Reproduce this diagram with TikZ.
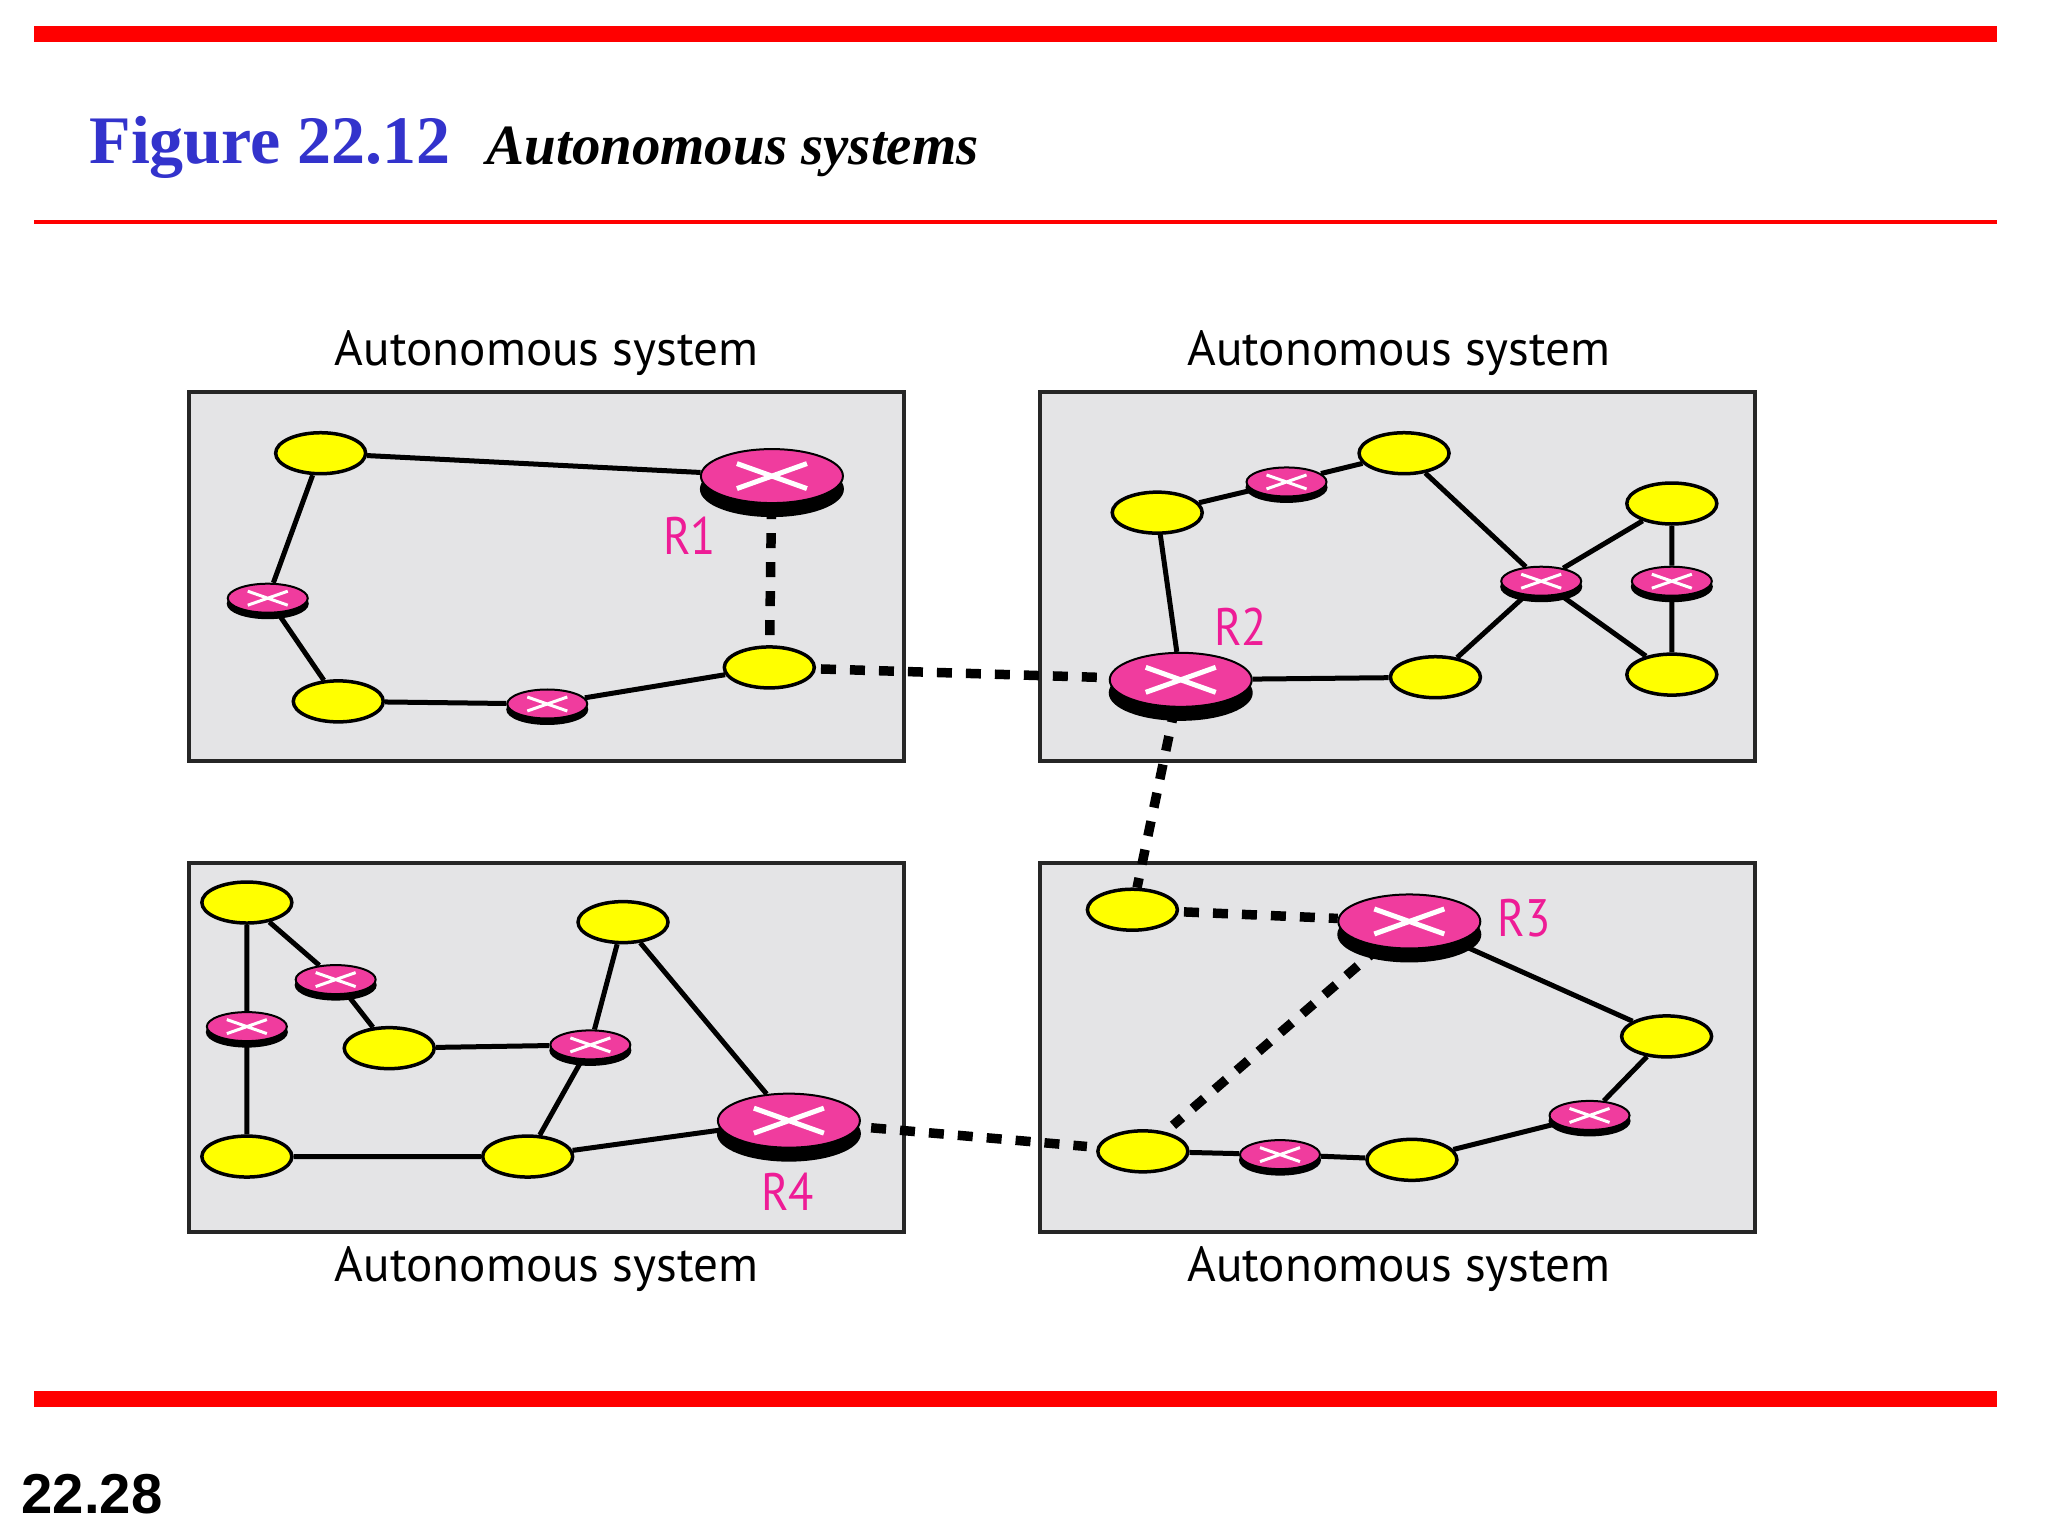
\documentclass[tikz,border=0pt]{standalone}
\usepackage{fontspec}
\setmainfont{Liberation Serif}
\newfontfamily\figsans{PT Sans}
\newfontfamily\labelsans[FakeStretch=0.88]{PT Sans}
\newfontfamily\pagesans{Liberation Sans}
\usetikzlibrary{shapes.geometric}
\pgfdeclarelayer{boxes}
\pgfdeclarelayer{links}
\pgfsetlayers{boxes,links,main}
\definecolor{routerpink}{HTML}{F03C9E}
\definecolor{labelpink}{HTML}{EE1C96}
\definecolor{boxgray}{HTML}{E4E4E6}
\definecolor{titleblue}{HTML}{3333CC}
\definecolor{hostyellow}{HTML}{FFFF00}
\definecolor{barred}{HTML}{FF0000}
\tikzset{
  host/.style={ellipse,draw=black,fill=hostyellow,line width=0.035cm,inner sep=0pt,
    minimum width=0.9cm,minimum height=0.41cm},
  smallbase/.style={ellipse,fill=black,draw=black,line width=0.02cm,inner sep=0pt,
    minimum width=0.8cm,minimum height=0.29cm,yshift=-0.055cm},
  bigbase/.style={ellipse,fill=black,draw=black,line width=0.02cm,inner sep=0pt,
    minimum width=1.42cm,minimum height=0.54cm,yshift=-0.13cm},
  smallrouter/.style={ellipse,fill=routerpink,draw=black,line width=0.02cm,inner sep=0pt,
    minimum width=0.8cm,minimum height=0.29cm,
    path picture={\draw[white,line width=0.03cm]
      ([shift={(-0.2cm,-0.07cm)}]path picture bounding box.center) -- ([shift={(0.2cm,0.07cm)}]path picture bounding box.center)
      ([shift={(-0.2cm,0.07cm)}]path picture bounding box.center) -- ([shift={(0.2cm,-0.07cm)}]path picture bounding box.center);}},
  bigrouter/.style={ellipse,fill=routerpink,draw=black,line width=0.02cm,inner sep=0pt,
    minimum width=1.42cm,minimum height=0.54cm,
    path picture={\draw[white,line width=0.05cm]
      ([shift={(-0.35cm,-0.125cm)}]path picture bounding box.center) -- ([shift={(0.35cm,0.125cm)}]path picture bounding box.center)
      ([shift={(-0.35cm,0.125cm)}]path picture bounding box.center) -- ([shift={(0.35cm,-0.125cm)}]path picture bounding box.center);}},
  asbox/.style={draw=black!85,fill=boxgray,line width=0.04cm},
  solidlink/.style={draw=black,line width=0.05cm},
  dashlink/.style={draw=black,line width=0.095cm,dash pattern=on 0.15cm off 0.14cm},
  astitle/.style={font=\figsans\fontsize{14}{16}\selectfont,anchor=base,text=black,inner sep=0pt},
  rlabel/.style={font=\labelsans\fontsize{15}{17}\selectfont,text=labelpink,inner sep=0pt},
  bar/.style={fill=barred,draw=none},
}
\newcommand{\smallR}[2]{\node[smallbase] at (#2) {};\node[smallrouter] (#1) at (#2) {};}
\newcommand{\bigR}[2]{\node[bigbase] at (#2) {};\node[bigrouter] (#1) at (#2) {};}
\begin{document}
\begin{tikzpicture}[x=0.013061cm,y=-0.013061cm]
\useasboundingbox (0,0) rectangle (1568,1176);
\begin{pgfonlayer}{boxes}
  \fill[white] (0,0) rectangle (1568,1176);
  \path[bar] (26,20) rectangle (1529,32.4);
  \path[bar] (26,168.3) rectangle (1529,171.5);
  \path[bar] (26,1065) rectangle (1529,1077);
  \path[asbox] (144.5,300) rectangle (692,583);
  \path[asbox] (796.5,300) rectangle (1344,583);
  \path[asbox] (144.5,661) rectangle (692,943.5);
  \path[asbox] (796.5,661) rectangle (1344,943.5);
\end{pgfonlayer}

\node[anchor=base west,inner sep=0pt,text=titleblue,font=\bfseries\fontsize{19.35}{22}\selectfont] (title) at (68,125.5) {Figure 22.12};
\node[anchor=base west,inner sep=0pt,font=\bfseries\itshape\fontsize{16.2}{20}\selectfont] (subtitle) at (372,126) {Autonomous systems};
\node[anchor=base west,inner sep=0pt,font=\pagesans\bfseries\fontsize{16}{19}\selectfont] (pageno) at (16,1159) {22.28};

\node[astitle] (t1) at (418.5,279.5) {Autonomous system};
\node[astitle] (t2) at (1071,279.5) {Autonomous system};
\node[astitle] (t3) at (418.5,981) {Autonomous system};
\node[astitle] (t4) at (1071,981) {Autonomous system};

\node[rlabel] (l1) at (528,410) {R1};
\node[rlabel] (l2) at (950,479.5) {R2};
\node[rlabel] (l3) at (1167,703) {R3};
\node[rlabel] (l4) at (603,912.5) {R4};

% top-left system
\node[host] (a1) at (245.5,347) {};
\bigR{R1}{591,364.5}
\smallR{a2}{205,458}
\node[host] (a3) at (259,537) {};
\smallR{a4}{419,539}
\node[host] (a5) at (589,511) {};

% top-right system
\node[host] (b1) at (886,392.5) {};
\smallR{b2}{985,369}
\node[host] (b3) at (1075,347) {};
\smallR{b4}{1180,445}
\node[host] (b5) at (1280,385.5) {};
\smallR{b6}{1280,445}
\node[host] (b7) at (1280,516.5) {};
\node[host] (b8) at (1099,518.5) {};
\bigR{R2}{904,520.5}

% bottom-right system
\node[host] (c1) at (867,696.5) {};
\bigR{R3}{1079,705.5}
\node[host] (c3) at (1276,793.5) {};
\smallR{c4}{1217,854}
\node[host] (c5) at (1081,888) {};
\smallR{c6}{980,884}
\node[host] (c7) at (875,881.5) {};

% bottom-left system
\node[host] (d1) at (189,691) {};
\smallR{d2}{257,750}
\smallR{d3}{189,786}
\node[host] (d4) at (298,802.5) {};
\smallR{d5}{452,800}
\node[host] (d6) at (477,706) {};
\node[host] (d7) at (189,885.5) {};
\node[host] (d8) at (404,885.5) {};
\bigR{R4}{604,858}

\begin{pgfonlayer}{links}
  \path[solidlink] (a1)--(R1) (a1)--(a2) (a2)--(a3) (a3)--(a4) (a4)--(a5);
  \path[solidlink] (R2)--(b1) (b1)--(b2) (b2)--(b3) (b3)--(b4) (b4)--(b5) (b4)--(b7)
    (b5)--(b6) (b6)--(b7) (b4)--(b8) (b8)--(R2);
  \path[solidlink] (R3)--(c3) (c3)--(c4) (c4)--(c5) (c5)--(c6) (c6)--(c7);
  \path[solidlink] (d1)--(d2) (d2)--(d4) (d1)--(d3) (d3)--(d7) (d7)--(d8) (d8)--(R4)
    (d8)--(d5) (d4)--(d5) (d5)--(d6) (d6)--(R4);
  \path[dashlink,shorten >=0.08cm] (R1)--(a5);
  \path[dashlink,shorten <=0.05cm] (a5)--(R2);
  \path[dashlink] (R2)--(c1);
  \path[dashlink,shorten <=0.05cm] (c1)--(R3);
  \path[dashlink,shorten >=0.1cm] (R3)--(c7);
  \path[dashlink,shorten <=0.12cm,shorten >=0.1cm] (R4)--(c7);
\end{pgfonlayer}
\end{tikzpicture}
\end{document}
